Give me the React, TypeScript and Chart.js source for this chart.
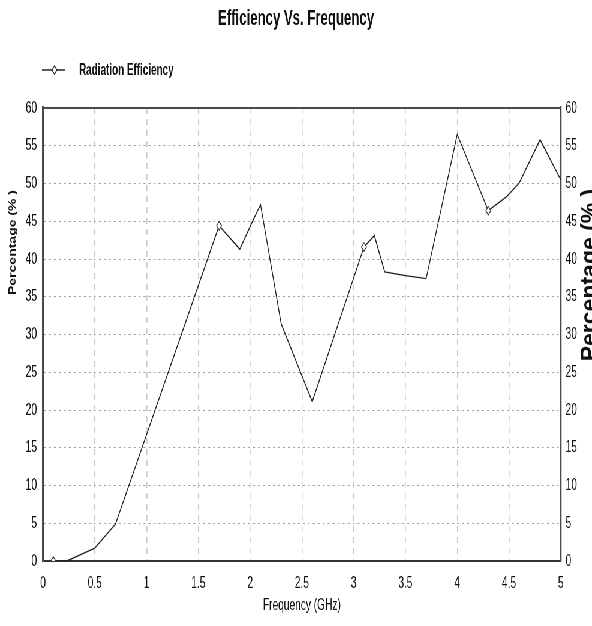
import React, { useEffect, useRef } from 'react';
import { Chart, registerables } from 'chart.js';

Chart.register(...registerables);

// ---- data ----
const chartTitle = 'Efficiency Vs. Frequency';
const seriesName = 'Radiation Efficiency';
const xTitle = 'Frequency (GHz)';
const yTitle = 'Percentage (% )';

const frequencies = [0.1, 0.23, 0.5, 0.7, 1.7, 1.9, 2.03, 2.1, 2.3, 2.6, 3.1, 3.2, 3.3, 3.5, 3.7, 4.0, 4.3, 4.48, 4.6, 4.8, 5.0];
const efficiency = [0, 0, 1.7, 4.9, 44.4, 41.3, 45.2, 47.2, 31.4, 21.1, 41.6, 43.1, 38.3, 37.8, 37.4, 56.5, 46.4, 48.3, 50.1, 55.8, 50.5];
const markedFrequencies = [0.1, 1.7, 3.1, 4.3];

const xMin = 0;
const xMax = 5;
const xStep = 0.5;
const yMin = 0;
const yMax = 60;
const yStep = 5;

// ---- layout (logical canvas is horizontally compressed to 592px) ----
const SX = 0.6;
const OUT_W = 592;
const OUT_H = 626;
const W = Math.round(OUT_W / SX);
const H = OUT_H;
const lx = (px: number) => px / SX;

const FONT = '"Liberation Sans", Arial, sans-serif';
const INK = '#111';

const fmt = (v: any) => String(Number(v));

export default function App() {
  const ref = useRef<HTMLCanvasElement | null>(null);

  useEffect(() => {
    document.body.style.margin = '0';
    document.body.style.overflow = 'hidden';
    const canvas = ref.current;
    if (!canvas) return;

    const points = frequencies.map((f, i) => ({ x: f, y: efficiency[i] }));
    const radii = frequencies.map((f) => (markedFrequencies.includes(f) ? 4.2 : 0));

    const decor = {
      id: 'decor',
      afterDraw(chart: any) {
        const ctx = chart.ctx as CanvasRenderingContext2D;
        const a = chart.chartArea;
        ctx.save();
        // top frame line
        ctx.strokeStyle = '#4a4a4a';
        ctx.lineWidth = 2;
        ctx.beginPath();
        ctx.moveTo(a.left - 1, a.top);
        ctx.lineTo(a.right + 1, a.top);
        ctx.stroke();

        // legend
        const ly = 70;
        ctx.strokeStyle = '#222';
        ctx.lineWidth = 1.4;
        ctx.beginPath();
        ctx.moveTo(lx(42), ly);
        ctx.lineTo(lx(65), ly);
        ctx.stroke();
        const dx = lx(54.5);
        const r = 4.2;
        ctx.beginPath();
        ctx.moveTo(dx, ly - r);
        ctx.lineTo(dx + r, ly);
        ctx.lineTo(dx, ly + r);
        ctx.lineTo(dx - r, ly);
        ctx.closePath();
        ctx.fillStyle = '#fff';
        ctx.fill();
        ctx.lineWidth = 1.2;
        ctx.stroke();
        ctx.fillStyle = INK;
        ctx.font = `bold 16.5px ${FONT}`;
        ctx.textAlign = 'left';
        ctx.textBaseline = 'middle';
        ctx.fillText(seriesName, lx(79), ly);

        // left y title
        ctx.save();
        ctx.translate(26, 242.5);
        ctx.rotate(-Math.PI / 2);
        ctx.scale(1, 1.15);
        ctx.font = `bold 14px ${FONT}`;
        ctx.textAlign = 'center';
        ctx.textBaseline = 'alphabetic';
        ctx.fillStyle = INK;
        ctx.fillText(yTitle, 0, 0);
        ctx.restore();

        // right y title (clipped by canvas edge)
        ctx.save();
        ctx.translate(lx(597), 275);
        ctx.rotate(-Math.PI / 2);
        ctx.scale(1, 1.7);
        ctx.font = `bold 23px ${FONT}`;
        ctx.textAlign = 'center';
        ctx.textBaseline = 'alphabetic';
        ctx.fillStyle = INK;
        ctx.fillText(yTitle, 0, 0);
        ctx.restore();

        ctx.restore();
      },
    };

    const chart = new Chart(canvas, {
      type: 'line',
      data: {
        datasets: [
          {
            label: seriesName,
            data: points,
            borderColor: '#1e1e1e',
            borderWidth: 1.4,
            pointStyle: 'rectRot',
            pointRadius: radii,
            pointBackgroundColor: '#fff',
            pointBorderColor: '#222',
            pointBorderWidth: 1.1,
            tension: 0,
            yAxisID: 'y',
          },
        ],
      },
      options: {
        responsive: false,
        animation: false,
        devicePixelRatio: 1,
        layout: { padding: { top: 0, left: 0, right: 0, bottom: 0 } },
        plugins: {
          legend: { display: false },
          tooltip: { enabled: false },
          title: {
            display: true,
            text: chartTitle,
            color: INK,
            font: { family: FONT, size: 22, weight: 'bold', lineHeight: 1.2 },
            padding: { top: 5.8, bottom: 75.8 },
          },
        },
        scales: {
          x: {
            type: 'linear',
            position: 'bottom',
            min: xMin,
            max: xMax,
            ticks: {
              stepSize: xStep,
              color: INK,
              font: { family: FONT, size: 17 },
              padding: 12,
              maxRotation: 0,
              autoSkip: false,
              callback: fmt,
            },
            grid: {
              color: '#c9c9c9',
              lineWidth: 1.6,
              drawTicks: false,
            },
            border: { display: true, color: '#333', width: 2, dash: [6, 5] },
            title: {
              display: true,
              text: xTitle,
              color: INK,
              font: { family: FONT, size: 17 },
              padding: { top: 0, bottom: 10 },
            },
            afterFit(scale: any) {
              scale.height = 65;
            },
          },
          y: {
            type: 'linear',
            position: 'left',
            min: yMin,
            max: yMax,
            ticks: {
              stepSize: yStep,
              color: INK,
              font: { family: FONT, size: 17 },
              padding: 10,
              callback: fmt,
            },
            grid: {
              color: '#a0a0a0',
              lineWidth: 1,
              drawTicks: false,
            },
            border: { display: true, color: '#4a4a4a', width: 3.3, dash: [3.3, 5] },
            afterFit(scale: any) {
              scale.width = lx(43);
            },
          },
          y2: {
            type: 'linear',
            position: 'right',
            min: yMin,
            max: yMax,
            ticks: {
              stepSize: yStep,
              color: INK,
              font: { family: FONT, size: 17 },
              padding: 8,
              callback: fmt,
            },
            grid: { display: false, drawOnChartArea: false, drawTicks: false },
            border: { display: true, color: '#4a4a4a', width: 3.3 },
            afterFit(scale: any) {
              scale.width = W - lx(561);
            },
          },
        },
      },
      plugins: [decor],
    } as any);

    return () => chart.destroy();
  }, []);

  return (
    <div
      style={{
        position: 'fixed',
        left: 0,
        top: 0,
        width: W,
        height: H,
        transform: `scaleX(${OUT_W / W})`,
        transformOrigin: '0 0',
        background: '#fff',
      }}
    >
      <canvas ref={ref} width={W} height={H} style={{ width: W, height: H, display: 'block' }} />
    </div>
  );
}
